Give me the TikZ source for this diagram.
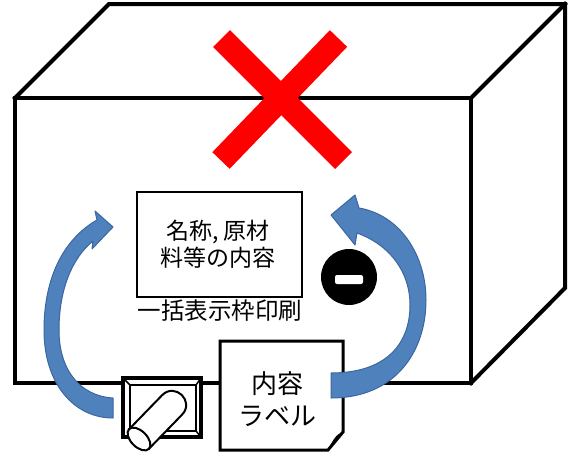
\documentclass[tikz,border=0pt]{standalone}
\usepackage{fontspec}
\setmainfont{Noto Sans CJK JP}
\definecolor{crossred}{HTML}{FF0000}
\definecolor{arrowblue}{HTML}{4F81BD}
\definecolor{arrowedge}{HTML}{3B67A0}
\tikzset{
  edge/.style={line width=4pt,line join=miter,line cap=rect},
  panel/.style={draw,line width=1.1pt,fill=white},
  tagbox/.style={draw,line width=3pt,fill=white,line join=miter},
  bent/.style={fill=arrowblue,draw=arrowedge,line width=1pt,line join=round},
  txt/.style={inner sep=0pt,align=center}
}

\begin{document}
\begin{tikzpicture}[x=1pt,y=-1pt]
 \useasboundingbox (0,0) rectangle (575,455);
 % carton
 \draw[edge] (15,98) rectangle (471,383);
 \draw[edge] (15,98) -- (109,4) -- (565,4) -- (565,288) -- (471,383);
 \draw[edge] (471,98) -- (565,4);
 \draw[crossred,line width=24pt] (221.5,38.5) -- (343.5,160.5);
 \draw[crossred,line width=24pt] (338.5,38.5) -- (221,160.5);
 % printed frame
 \draw[panel] (137,192) rectangle (302,297);
 \node[txt,font=\fontsize{23}{27}\selectfont] (naiyou) at (218,244) {名称, 原材\\料等の内容};
 \node[txt,font=\fontsize{23.5}{27}\selectfont] (ikkatsu) at (220,311) {一括表示枠印刷};
 % minus mark
 \fill (349,277) ellipse [x radius=28, y radius=28];
 \fill[white,rounded corners=2pt] (335,275) rectangle (363,284);
 % printer
 \draw[line width=3.5pt,fill=white] (123,378) rectangle (201,437);
 \draw[line width=2pt] (130,385) rectangle (196,431);
 \draw[line width=1.5pt] (123,378) -- (130,385) (201,378) -- (196,385)
   (201,437) -- (196,431);
 \draw[line width=2pt,fill=white] (129,429.3) -- (162,395.3)
   .. controls (175,381.9) and (195,401.3) .. (182,414.7) -- (149,448.7) -- cycle;
 \draw[line width=2pt,fill=white,rotate around={-45:(139,439)}] (139,439) ellipse [x radius=14, y radius=8];
 % label
 \draw[tagbox] (220,341) -- (343,341) -- (343,432) -- (328,450) -- (220,450) -- cycle;
 \fill (343,432) .. controls (336,434) and (333,440) .. (328,450) -- (332,445) -- cycle;
 \node[txt,font=\fontsize{26}{32}\selectfont] (label) at (277,399) {内容\\ラベル};
 % arrows
 \path[bent] (113,398) .. controls (80,396) and (59,370) .. (59,330)
   .. controls (59,290) and (72,258) .. (93,241) -- (92,249) -- (113,227)
   -- (95,211) -- (97,220)
   .. controls (62,240) and (44,280) .. (44,330)
   .. controls (44,385) and (75,418) .. (113,418) -- cycle;
 \path[bent] (331,373) .. controls (385,373) and (410,345) .. (410,305)
   .. controls (410,272) and (390,245) .. (357,233) -- (355,245) -- (331,215)
   -- (355,195) -- (359,208)
   .. controls (400,215) and (426,255) .. (426,300)
   .. controls (426,352) and (395,398) .. (331,398) -- cycle;
\end{tikzpicture}
\end{document}
